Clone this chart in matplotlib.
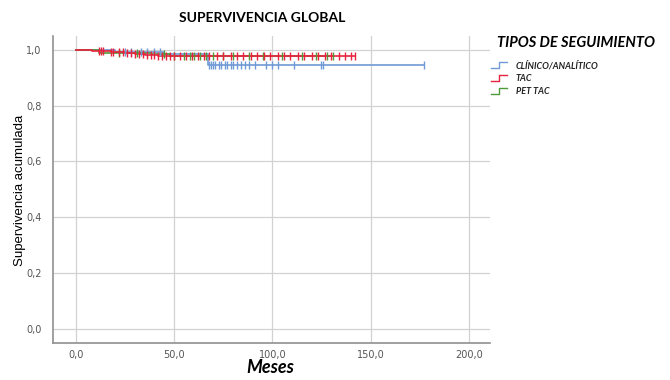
import matplotlib.pyplot as plt
import numpy as np
from matplotlib.lines import Line2D

# Kaplan-Meier curves per follow-up type: event times / survival after each event, censored times
grupos = ['CLÍNICO/ANALÍTICO', 'TAC', 'PET TAC']
colores = ['#6f9ad6', '#e8223c', '#4f9a3a']

t_clinico = [0, 20, 45, 67]
s_clinico = [1.0, 0.993, 0.985, 0.947]
c_clinico = [25, 28, 33, 36, 40, 43, 68, 69, 70, 71, 73, 74, 76, 77, 79, 80, 82,
             84, 86, 88, 91, 97, 100, 103, 111, 125, 126, 177]

t_tac = [0, 8, 18, 25, 30, 35, 42, 50]
s_tac = [1.0, 0.995, 0.992, 0.988, 0.985, 0.982, 0.979, 0.977]
c_tac = [12, 13, 14, 18, 19, 22, 24, 26, 28, 30, 32, 34, 36, 38, 40, 42, 44, 46,
         48, 50, 53, 56, 59, 62, 65, 68, 72, 75, 79, 82, 85, 89, 92, 96, 99, 103,
         106, 109, 113, 116, 120, 123, 127, 130, 134, 137, 140, 142]

t_pet = [0, 12, 38, 48]
s_pet = [1.0, 0.988, 0.984, 0.980]
c_pet = [22, 31, 45, 50, 55, 58, 60, 63, 66, 70, 75, 80, 88, 95, 105, 115, 122,
         128, 131]

xticks = [0, 50, 100, 150, 200]
yticks = [0.0, 0.2, 0.4, 0.6, 0.8, 1.0]

fig = plt.figure(figsize=(6.7, 3.8), dpi=100)
ax = fig.add_axes([0.079, 0.097, 0.652, 0.808])


def km(ax, t, s, cens, color):
    tend = max(cens)
    xs = list(t) + [tend]
    ys = list(s) + [s[-1]]
    ax.step(xs, ys, where='post', color=color, lw=1.2, zorder=3)
    idx = np.searchsorted(t, cens, side='right') - 1
    ax.plot(cens, np.array(s)[idx], ls='none', marker='|', ms=6, mew=1.0,
            color=color, zorder=4)


km(ax, t_clinico, s_clinico, c_clinico, colores[0])
km(ax, t_pet, s_pet, c_pet, colores[2])
km(ax, t_tac, s_tac, c_tac, colores[1])

ax.set_xlim(-11.7, 210.7)
ax.set_ylim(-0.052, 1.05)
ax.set_xticks(xticks)
ax.set_xticklabels([f'{v:.1f}'.replace('.', ',') for v in xticks])
ax.set_yticks(yticks)
ax.set_yticklabels([f'{v:.1f}'.replace('.', ',') for v in yticks])
ax.tick_params(axis='x', length=0, labelsize=7, colors='#555555', pad=5)
ax.tick_params(axis='y', length=0, labelsize=7, colors='#555555', pad=8)
ax.grid(True, color='#d2d2d2', lw=0.9)
ax.set_axisbelow(True)
for sp in ['top', 'right']:
    ax.spines[sp].set_visible(False)
for sp in ['left', 'bottom']:
    ax.spines[sp].set_color('#909090')
    ax.spines[sp].set_linewidth(1.2)

fig.text(0.030, 0.50, 'Supervivencia acumulada', rotation=90, ha='center',
         va='center', fontsize=9.5, family='Liberation Sans')
fig.text(0.403, 0.032, 'Meses', ha='center', va='center', fontsize=13,
         fontweight='bold', fontstyle='italic', family='Lato')

fig.text(0.391, 0.952, 'SUPERVIVENCIA GLOBAL', ha='center', va='center',
         fontsize=10, fontweight='bold', family='Lato')

# legend with step-shaped keys
fig.text(0.742, 0.887, 'TIPOS DE SEGUIMIENTO', ha='left', va='center',
         fontsize=10.5, fontweight='bold', fontstyle='italic', family='Lato')
for i, (g, c) in enumerate(zip(grupos, colores)):
    y = 0.828 - i * 0.034
    x0 = 0.733
    fig.add_artist(Line2D([x0, x0 + 0.012, x0 + 0.012, x0 + 0.024],
                          [y - 0.008, y - 0.008, y + 0.008, y + 0.008],
                          color=c, lw=1.0, transform=fig.transFigure))
    fig.text(x0 + 0.037, y, g, ha='left', va='center', fontsize=6.5,
             fontweight='bold', fontstyle='italic', family='Lato', color='#222222')

fig.savefig('out.png', dpi=100)
